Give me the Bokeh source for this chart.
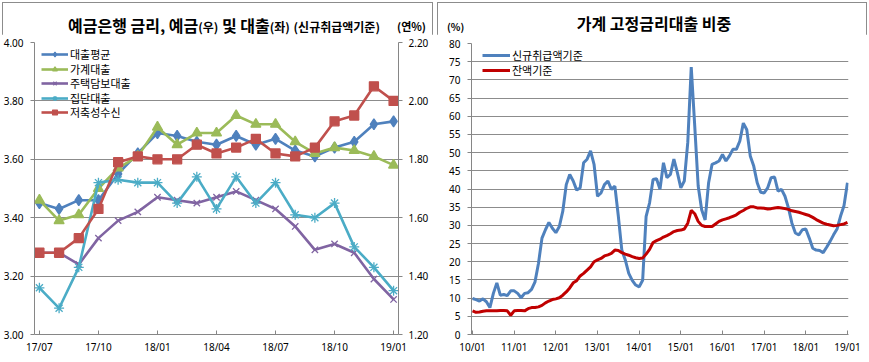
from bokeh.plotting import figure
from bokeh.models import (Range1d, LinearAxis, FixedTicker, Legend, LegendItem,
                          NumeralTickFormatter, Div)
from bokeh.layouts import row, column
from bokeh.embed import file_html
from bokeh.resources import INLINE

# ---------------- data: left chart (monthly 17/07 .. 19/01) ----------------
left_months = ["17/07", "17/08", "17/09", "17/10", "17/11", "17/12", "18/01", "18/02",
               "18/03", "18/04", "18/05", "18/06", "18/07", "18/08", "18/09", "18/10",
               "18/11", "18/12", "19/01"]
loan_avg = [3.45, 3.43, 3.46, 3.46, 3.55, 3.62, 3.69, 3.68, 3.66, 3.65, 3.68, 3.65,
            3.67, 3.63, 3.61, 3.64, 3.66, 3.72, 3.73]
household = [3.46, 3.39, 3.41, 3.50, 3.57, 3.61, 3.71, 3.65, 3.69, 3.69, 3.75, 3.72,
             3.72, 3.66, 3.62, 3.64, 3.63, 3.61, 3.58]
mortgage = [3.28, 3.28, 3.24, 3.33, 3.39, 3.42, 3.47, 3.46, 3.45, 3.47, 3.49, 3.46,
            3.43, 3.37, 3.29, 3.31, 3.28, 3.19, 3.12]
group_loan = [3.16, 3.09, 3.23, 3.52, 3.53, 3.52, 3.52, 3.45, 3.54, 3.43, 3.54, 3.45,
              3.52, 3.41, 3.40, 3.45, 3.30, 3.23, 3.15]
savings = [1.48, 1.48, 1.53, 1.63, 1.79, 1.81, 1.80, 1.80, 1.85, 1.82, 1.84, 1.87,
           1.82, 1.81, 1.84, 1.93, 1.95, 2.05, 2.00]
left_tick_labels = ["17/07", "17/10", "18/01", "18/04", "18/07", "18/10", "19/01"]

# ---------------- data: right chart (monthly 10/01 .. 19/01) ----------------
new_loans = [9.9, 9.6, 9.2, 9.8, 9.0, 7.4, 11.3, 14.2, 10.8, 11.0, 10.7, 12.0,
             12.0, 11.3, 10.1, 11.3, 11.5, 12.4, 14.5, 19.6, 26.5, 28.8, 30.8, 29.2,
             28.0, 29.7, 33.9, 41.2, 44.0, 42.2, 39.7, 40.3, 47.2, 48.2, 50.5, 46.8,
             38.0, 38.9, 41.2, 42.2, 39.9, 40.8, 32.5, 23.2, 20.5, 16.8, 14.9, 13.6,
             13.1, 14.9, 32.5, 36.2, 42.6, 42.8, 39.9, 47.2, 43.1, 44.0, 48.2, 44.5,
             40.3, 42.2, 52.8, 73.5, 57.4, 40.8, 34.3, 31.5, 41.7, 46.8, 47.2, 47.7,
             49.5, 47.7, 49.1, 50.9, 50.9, 53.2, 58.1, 56.3, 49.1, 46.3, 41.7, 39.1,
             38.9, 40.3, 43.1, 43.3, 39.4, 39.9, 38.0, 34.8, 30.6, 27.9, 27.4, 28.8,
             29.0, 26.5, 23.7, 23.2, 23.1, 22.5, 24.0, 25.6, 27.4, 29.0, 32.5, 35.4,
             41.7]
balance = [6.5, 6.1, 6.2, 6.4, 6.5, 6.5, 6.5, 6.5, 6.6, 6.6, 6.5, 5.3,
           6.5, 6.6, 6.6, 6.5, 7.1, 7.4, 7.4, 7.6, 8.0, 8.7, 9.2, 9.6,
           9.8, 10.1, 10.8, 11.7, 12.8, 14.2, 14.8, 16.1, 16.8, 17.7, 18.6, 20.0,
           20.5, 20.9, 21.6, 21.9, 22.3, 23.2, 23.1, 22.5, 22.1, 21.8, 21.4, 21.1,
           20.9, 21.0, 22.1, 23.4, 25.3, 25.8, 26.2, 26.8, 27.2, 27.7, 28.3, 28.6,
           28.7, 29.0, 30.6, 34.1, 33.2, 31.1, 30.0, 29.7, 29.7, 29.7, 30.4, 31.1,
           31.5, 31.8, 32.1, 32.5, 32.9, 33.6, 34.1, 34.7, 35.1, 35.1, 34.8, 34.8,
           34.7, 34.5, 34.6, 34.8, 34.9, 34.8, 34.6, 34.4, 34.0, 33.8, 33.6, 33.3,
           33.0, 32.7, 32.2, 31.6, 31.1, 30.6, 30.3, 30.1, 29.9, 30.0, 30.2, 30.4,
           30.8]
right_tick_labels = ["10/01", "11/01", "12/01", "13/01", "14/01", "15/01", "16/01",
                     "17/01", "18/01", "19/01"]

# ---------------- styling constants ----------------
GRID = "#8c8c8c"
AX = "#868686"
FONT = "Noto Sans"
TXT = "#000000"
BOX = {"outline": "1px solid #8c8c8c", "outline-offset": "-3px"}
TOTAL_H = 360
DIV_H = 34
ITEM_H = 16.0   # legend item height for 11px labels


def style_axis(ax, tick_in=0, tick_out=4, standoff=3):
    ax.axis_line_color = AX
    ax.major_tick_line_color = AX
    ax.major_tick_in = tick_in
    ax.major_tick_out = tick_out
    ax.minor_tick_line_color = None
    ax.major_label_text_font = FONT
    ax.major_label_text_font_size = "10px"
    ax.major_label_text_color = TXT
    ax.major_label_standoff = standoff


def add_legend_row(p, fh, item, x, center_from_top, glyph_width):
    leg = Legend(items=[item], location=(x, fh - center_from_top - ITEM_H / 2),
                 padding=0, margin=0, spacing=0, label_height=12, glyph_height=12,
                 glyph_width=glyph_width, label_standoff=2,
                 background_fill_alpha=0, border_line_alpha=0,
                 label_text_font="Noto Sans CJK KR", label_text_font_size="11px",
                 label_text_color=TXT)
    p.add_layout(leg, "center")


# ================= LEFT FIGURE =================
W1 = 435
H1 = TOTAL_H - DIV_H
LB, RB, TB, BB = 33, 37, 8, 26
FH1 = H1 - TB - BB
p1 = figure(width=W1, height=H1, output_backend="svg", toolbar_location=None,
            x_range=Range1d(-0.25, 18.25), y_range=Range1d(3.0, 4.0),
            min_border_left=LB, min_border_right=RB, min_border_top=TB,
            min_border_bottom=BB, outline_line_color=None,
            background_fill_color="white", border_fill_color="white")
p1.extra_y_ranges = {"r": Range1d(1.2, 2.2)}

xs = list(range(len(left_months)))
series = [
    ("대출평균", loan_avg, "#4F81BD", "diamond", 11, "default"),
    ("가계대출", household, "#9BBB59", "triangle", 10, "default"),
    ("주택담보대출", mortgage, "#8064A2", "x", 9, "default"),
    ("집단대출", group_loan, "#4BACC6", "asterisk", 10, "default"),
    ("저축성수신", savings, "#C0504D", "square", 9, "r"),
]
for k, (name, ys, col, mk, sz, rng) in enumerate(series):
    lr = p1.line(xs, ys, line_color=col, line_width=2.6, y_range_name=rng)
    sr = p1.scatter(xs, ys, marker=mk, size=sz, fill_color=col, line_color=col,
                    line_width=1.3, y_range_name=rng)
    add_legend_row(p1, FH1, LegendItem(label=name, renderers=[lr, sr]),
                   7, 12 + 14.5 * k, 27)

p1.xaxis.ticker = FixedTicker(ticks=[0, 3, 6, 9, 12, 15, 18])
p1.xaxis.major_label_overrides = {i * 3: t for i, t in enumerate(left_tick_labels)}
style_axis(p1.xaxis[0], tick_in=4, tick_out=0, standoff=5)

yt = [3.0, 3.2, 3.4, 3.6, 3.8, 4.0]
p1.yaxis.ticker = FixedTicker(ticks=yt)
p1.yaxis.formatter = NumeralTickFormatter(format="0.00")
style_axis(p1.yaxis[0], standoff=7)
raxis = LinearAxis(y_range_name="r", ticker=FixedTicker(ticks=[1.2, 1.4, 1.6, 1.8, 2.0, 2.2]),
                   formatter=NumeralTickFormatter(format="0.00"))
style_axis(raxis, standoff=6)
p1.add_layout(raxis, "right")

p1.xgrid.visible = False
p1.ygrid.ticker = FixedTicker(ticks=yt)
p1.ygrid.grid_line_color = GRID

title1 = Div(width=W1, height=DIV_H, margin=0, text=(
    '<div style="position:relative;width:435px;height:34px;'
    'font-family:\'Noto Sans CJK KR\';font-weight:bold;color:#000;">'
    '<span style="position:absolute;left:68px;top:17px;font-size:16px;'
    'line-height:16px;white-space:nowrap;">예금은행 금리, 예금'
    '<span style="font-size:12px;">(우)</span> 및 대출'
    '<span style="font-size:12px;">(좌)</span> '
    '<span style="font-size:12px;">(신규취급액기준)</span></span>'
    '<span style="position:absolute;left:397px;top:21px;font-size:11px;'
    'line-height:11px;white-space:nowrap;">(연%)</span></div>'))

# ================= RIGHT FIGURE =================
W2 = 434
H2 = TOTAL_H - DIV_H
LB2, RB2, TB2, BB2 = 36, 21, 9, 26
FH2 = H2 - TB2 - BB2
p2 = figure(width=W2, height=H2, output_backend="svg", toolbar_location=None,
            x_range=Range1d(-0.3, 108.3), y_range=Range1d(0, 80),
            min_border_left=LB2, min_border_right=RB2, min_border_top=TB2,
            min_border_bottom=BB2, outline_line_color=None,
            background_fill_color="white", border_fill_color="white")
mx = list(range(len(new_loans)))
r_new = p2.line(mx, new_loans, line_color="#4F81BD", line_width=3)
r_bal = p2.line(list(range(len(balance))), balance, line_color="#C00000", line_width=3)

p2.xaxis.ticker = FixedTicker(ticks=[i * 12 for i in range(10)])
p2.xaxis.major_label_overrides = {i * 12: t for i, t in enumerate(right_tick_labels)}
style_axis(p2.xaxis[0], tick_in=4, tick_out=0, standoff=5)
yt2 = list(range(0, 85, 5))
p2.yaxis.ticker = FixedTicker(ticks=yt2)
style_axis(p2.yaxis[0], standoff=7)
p2.xgrid.visible = False
p2.ygrid.ticker = FixedTicker(ticks=yt2)
p2.ygrid.grid_line_color = GRID

add_legend_row(p2, FH2, LegendItem(label="신규취급액기준", renderers=[r_new]), 11, 12, 28)
add_legend_row(p2, FH2, LegendItem(label="잔액기준", renderers=[r_bal]), 11, 27, 28)

title2 = Div(width=W2, height=DIV_H, margin=0, text=(
    '<div style="position:relative;width:434px;height:34px;'
    'font-family:\'Noto Sans CJK KR\';font-weight:bold;color:#000;">'
    '<span style="position:absolute;left:219px;top:15px;font-size:16px;'
    'line-height:16px;white-space:nowrap;transform:translateX(-50%);">'
    '가계 고정금리대출 비중</span>'
    '<span style="position:absolute;left:12px;top:22px;font-size:10px;'
    'line-height:10px;white-space:nowrap;">(%)</span></div>'))

left = column(title1, p1, spacing=0, styles=BOX)
right = column(title2, p2, spacing=0, styles=BOX)
layout = row(left, right, spacing=0)
open("out.html", "w").write(file_html(layout, INLINE))
